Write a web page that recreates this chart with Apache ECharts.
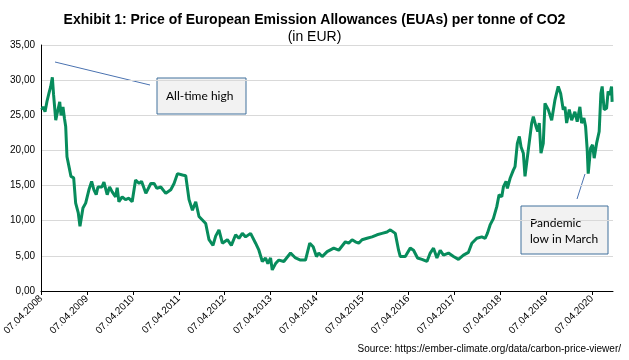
<!DOCTYPE html>
<html>
<head>
<meta charset="utf-8">
<script src="https://cdn.jsdelivr.net/npm/echarts@6/dist/echarts.min.js"></script>
<style>
  html, body { margin: 0; padding: 0; background: #fff; }
  #chart { width: 629px; height: 360px; }
</style>
</head>
<body>
<div id="chart"></div>
<script type="text/javascript">
// years since 07.04.2008 and EUA price (EUR/t)
var yearsSinceStart = [
  0.015, 0.043, 0.087, 0.130, 0.174, 0.211, 0.246, 0.272, 0.320, 0.359, 0.407, 0.435, 0.478, 0.511,
  0.537, 0.565, 0.609, 0.652, 0.711, 0.754, 0.811, 0.848, 0.913, 0.972, 1.043, 1.102, 1.152, 1.202,
  1.239, 1.326, 1.370, 1.441, 1.493, 1.550, 1.624, 1.659, 1.696, 1.767, 1.841, 1.913, 1.985, 2.059,
  2.137, 2.189, 2.283, 2.391, 2.463, 2.522, 2.609, 2.717, 2.826, 2.898, 2.972, 3.080, 3.152, 3.224,
  3.298, 3.370, 3.441, 3.515, 3.587, 3.659, 3.746, 3.804, 3.876, 3.950, 4.059, 4.146, 4.239, 4.311,
  4.385, 4.457, 4.565, 4.674, 4.746, 4.820, 4.891, 4.941, 5.000, 5.037, 5.109, 5.180, 5.289, 5.435,
  5.543, 5.652, 5.761, 5.854, 5.928, 6.000, 6.050, 6.124, 6.233, 6.376, 6.485, 6.630, 6.702, 6.776,
  6.848, 6.920, 6.993, 7.102, 7.211, 7.320, 7.428, 7.537, 7.609, 7.717, 7.789, 7.826, 7.935, 8.043,
  8.115, 8.202, 8.298, 8.407, 8.478, 8.550, 8.624, 8.696, 8.767, 8.876, 8.985, 9.093, 9.202, 9.311,
  9.385, 9.493, 9.602, 9.674, 9.724, 9.783, 9.854, 9.928, 9.978, 10.037, 10.072, 10.130, 10.159, 10.217,
  10.289, 10.326, 10.376, 10.420, 10.457, 10.507, 10.543, 10.615, 10.689, 10.724, 10.783, 10.820, 10.854, 10.891,
  10.941, 10.978, 11.050, 11.124, 11.196, 11.267, 11.320, 11.376, 11.413, 11.450, 11.507, 11.559, 11.630, 11.680,
  11.739, 11.776, 11.826, 11.863, 11.898, 11.920, 11.972, 12.015, 12.050, 12.102, 12.159, 12.196, 12.224, 12.267,
  12.320, 12.354, 12.391, 12.428, 12.441
];
var prices = [
  25.8, 26.2, 25.5, 27.0, 28.2, 29.1, 30.4, 28.0, 24.3, 25.5, 26.9, 25.0, 26.2, 24.5,
  23.4, 19.1, 17.7, 16.3, 16.1, 12.5, 11.1, 9.2, 11.8, 12.5, 14.4, 15.6, 14.4, 13.7,
  14.8, 14.8, 15.5, 13.7, 14.8, 14.1, 13.4, 14.7, 12.7, 13.4, 13.0, 13.2, 12.7, 15.8,
  15.3, 15.6, 13.9, 15.3, 15.3, 14.6, 14.8, 13.9, 14.4, 15.3, 16.7, 16.5, 16.4, 13.0,
  11.5, 12.7, 10.6, 10.1, 9.6, 7.3, 6.5, 7.8, 8.7, 6.8, 7.3, 6.5, 8.0, 7.5,
  8.2, 7.7, 8.2, 6.8, 5.8, 4.2, 4.7, 3.9, 4.7, 3.0, 3.9, 4.4, 4.2, 5.4,
  4.7, 4.4, 4.4, 6.8, 6.3, 4.9, 5.4, 4.9, 5.6, 6.1, 5.8, 7.0, 6.8, 7.3,
  7.0, 6.8, 7.3, 7.5, 7.7, 8.0, 8.2, 8.4, 8.7, 8.2, 5.8, 4.9, 4.9, 6.1,
  5.8, 4.7, 4.5, 4.2, 5.4, 6.1, 4.7, 5.8, 5.1, 5.4, 4.9, 4.5, 5.1, 5.5,
  6.8, 7.5, 7.7, 7.5, 8.2, 9.4, 10.3, 12.0, 13.7, 13.4, 14.8, 15.6, 14.6, 16.0,
  17.2, 17.7, 21.0, 22.0, 20.5, 19.6, 16.3, 20.1, 23.9, 24.8, 23.4, 22.7, 23.9, 19.6,
  21.0, 26.7, 25.8, 24.3, 27.2, 29.1, 28.1, 25.8, 26.2, 23.9, 25.8, 24.3, 25.5, 24.1,
  26.2, 23.9, 24.6, 23.4, 20.1, 16.7, 20.3, 20.8, 18.9, 21.0, 22.7, 28.1, 29.1, 25.8,
  26.0, 28.4, 27.9, 29.1, 26.9
];
var tickYears = [2008, 2009, 2010, 2011, 2012, 2013, 2014, 2015, 2016, 2017, 2018, 2019, 2020];
var endYears = 12.46;

var seriesData = [];
for (var i = 0; i < prices.length; i++) {
  seriesData.push([yearsSinceStart[i], prices[i]]);
}
var tickValues = tickYears.map(function (y) { return y - 2008; });

var arial = '"Liberation Sans", Arial, sans-serif';

var myChart = echarts.init(document.getElementById('chart'));
var option = {
  animation: false,
  title: {
    text: 'Exhibit 1: Price of European Emission Allowances (EUAs) per tonne of CO2',
    subtext: '(in EUR)',
    left: 'center',
    top: 8,
    itemGap: 3,
    textStyle: { fontFamily: arial, fontSize: 14, fontWeight: 'bold', color: '#000' },
    subtextStyle: { fontFamily: arial, fontSize: 14, color: '#000' }
  },
  grid: { left: 40, right: 16, top: 45, bottom: 69 },
  xAxis: {
    type: 'value',
    min: 0,
    max: endYears,
    axisLine: { lineStyle: { color: '#000', width: 1 } },
    axisTick: { show: true, length: 4, lineStyle: { color: '#000' }, customValues: tickValues },
    splitLine: { show: false },
    axisLabel: {
      customValues: tickValues,
      rotate: 45,
      margin: 6,
      color: '#000',
      fontFamily: arial,
      fontSize: 10,
      formatter: function (v) { return '07.04.' + (2008 + Math.round(v)); }
    }
  },
  yAxis: {
    type: 'value',
    min: 0,
    max: 35,
    interval: 5,
    axisLine: { show: true, lineStyle: { color: '#000', width: 1 } },
    axisTick: { show: false },
    splitLine: { lineStyle: { color: '#d9d9d9', width: 1 } },
    axisLabel: {
      margin: 6,
      color: '#000',
      fontFamily: arial,
      fontSize: 10,
      formatter: function (v) { return v.toFixed(2).replace('.', ','); }
    }
  },
  series: [{
    type: 'line',
    data: seriesData,
    showSymbol: false,
    smooth: false,
    lineStyle: { color: '#078c5c', width: 3 },
    z: 3
  }],
  graphic: [
    // All-time high callout
    { type: 'line', shape: { x1: 55, y1: 62, x2: 150, y2: 85 }, style: { stroke: '#4a72b0', lineWidth: 1 } },
    { type: 'rect', shape: { x: 157, y: 78, width: 89, height: 36 }, style: { fill: '#f2f2f2', stroke: '#41719c', lineWidth: 1 } },
    { type: 'text', x: 166, y: 96, style: { text: 'All-time high', fill: '#000', font: '12px Lato, sans-serif', textVerticalAlign: 'middle' } },
    // Pandemic low callout
    { type: 'line', shape: { x1: 585, y1: 174, x2: 577, y2: 199 }, style: { stroke: '#4a72b0', lineWidth: 1 } },
    { type: 'rect', shape: { x: 521, y: 206, width: 87, height: 48 }, style: { fill: '#f2f2f2', stroke: '#41719c', lineWidth: 1 } },
    { type: 'text', x: 530, y: 223, style: { text: 'Pandemic', fill: '#000', font: '12px Lato, sans-serif', textVerticalAlign: 'middle' } },
    { type: 'text', x: 530, y: 239, style: { text: 'low in March', fill: '#000', font: '12px Lato, sans-serif', textVerticalAlign: 'middle' } },
    // source
    { type: 'text', right: 8, top: 344, style: { text: 'Source: https://ember-climate.org/data/carbon-price-viewer/', fill: '#000', font: '10px ' + arial } }
  ]
};
myChart.setOption(option);
</script>
</body>
</html>
